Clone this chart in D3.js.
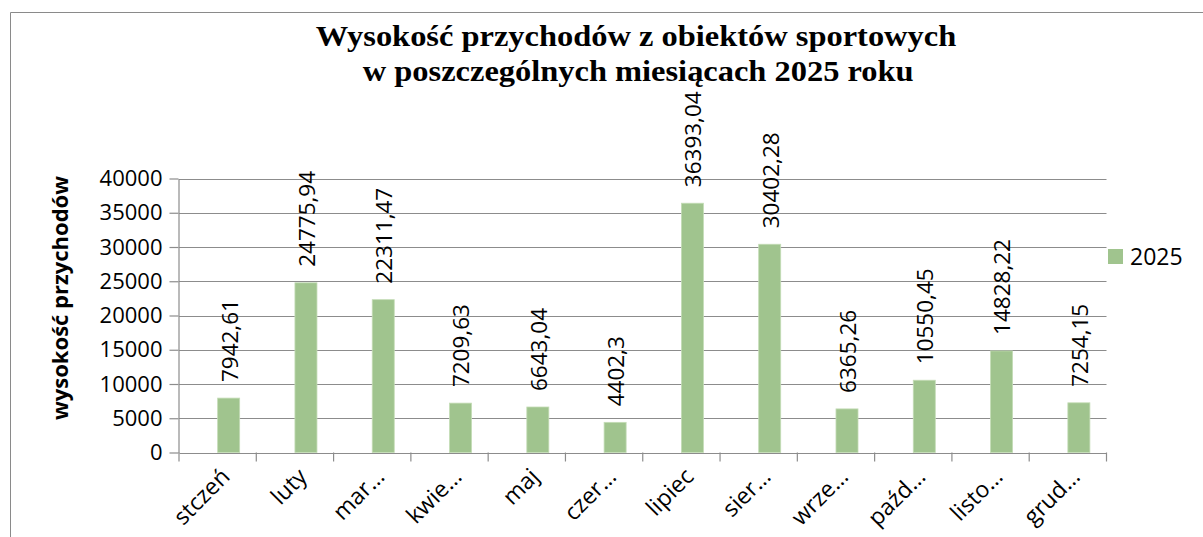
<!DOCTYPE html>
<html>
<head>
<meta charset="utf-8">
<script src="https://cdn.jsdelivr.net/npm/d3@7"></script>
<style>
  body { margin: 0; background: #fff; }
  svg { display: block; }
</style>
</head>
<body>
<div id="chart"></div>
<script>
// chart data
var months = ['stczeń', 'luty', 'marzec', 'kwiecień', 'maj', 'czerwiec', 'lipiec', 'sierpień', 'wrzesień', 'październik', 'listopad', 'grudzień'];
var monthLabels = ['stczeń', 'luty', 'mar…', 'kwie…', 'maj', 'czer…', 'lipiec', 'sier…', 'wrze…', 'paźd…', 'listo…', 'grud…'];
var values2025 = [7942.61, 24775.94, 22311.47, 7209.63, 6643.04, 4402.3, 36393.04, 30402.28, 6365.26, 10550.45, 14828.22, 7254.15];
var valueLabels = ['7942,61', '24775,94', '22311,47', '7209,63', '6643,04', '4402,3', '36393,04', '30402,28', '6365,26', '10550,45', '14828,22', '7254,15'];
var yTicks = [0, 5000, 10000, 15000, 20000, 25000, 30000, 35000, 40000];
var seriesName = '2025';

var width = 1203, height = 537;
var plot = { left: 179, right: 1106.5, top: 178.5, bottom: 452.5 };
var barColor = '#a0c48e';
var gridColor = '#8c8c8c';
var font = '"Open Sans", "DejaVu Sans", sans-serif';

var svg = d3.select('#chart').append('svg')
    .attr('width', width)
    .attr('height', height);

// chart frame (only top and left edges are visible)
svg.append('line')
    .attr('x1', 10.5).attr('x2', width).attr('y1', 12.5).attr('y2', 12.5)
    .attr('stroke', '#8a8a8a').attr('stroke-width', 1);
svg.append('line')
    .attr('x1', 10.5).attr('x2', 10.5).attr('y1', 12.5).attr('y2', height)
    .attr('stroke', '#8a8a8a').attr('stroke-width', 1);

var x = d3.scaleBand()
    .domain(months)
    .range([plot.left, plot.right])
    .padding(0);

var y = d3.scaleLinear()
    .domain([0, 40000])
    .range([plot.bottom, plot.top]);

// gridlines
svg.append('g')
    .selectAll('line')
    .data(yTicks.slice(1))
    .enter().append('line')
    .attr('x1', plot.left)
    .attr('x2', plot.right)
    .attr('y1', d => Math.round(y(d)) + 0.5)
    .attr('y2', d => Math.round(y(d)) + 0.5)
    .attr('stroke', gridColor)
    .attr('stroke-width', 1.2);

// y axis
var yAxis = svg.append('g')
    .attr('transform', 'translate(' + (plot.left - 0.5) + ',0)')
    .call(d3.axisLeft(y).tickValues(yTicks).tickFormat(d3.format('d')).tickSize(9).tickPadding(7).tickSizeOuter(0));
yAxis.select('.domain').attr('stroke', gridColor).attr('stroke-width', 1.2);
yAxis.selectAll('.tick line').attr('stroke', gridColor).attr('stroke-width', 1.2);
yAxis.selectAll('.tick text')
    .attr('font-family', font)
    .attr('font-size', 22)
    .attr('fill', '#000');

// x axis
var xAxis = svg.append('g')
    .attr('transform', 'translate(0,' + (plot.bottom + 0.5) + ')')
    .call(d3.axisBottom(x).tickSize(0).tickFormat(''));
xAxis.select('.domain').attr('stroke', gridColor).attr('stroke-width', 1.2);

// category boundary ticks
svg.append('g')
    .selectAll('line')
    .data(months.concat(['_end']))
    .enter().append('line')
    .attr('x1', (d, i) => i < months.length ? x(d) : plot.right)
    .attr('x2', (d, i) => i < months.length ? x(d) : plot.right)
    .attr('y1', plot.bottom)
    .attr('y2', plot.bottom + 9)
    .attr('stroke', gridColor)
    .attr('stroke-width', 1.2);

// x labels rotated
svg.append('g')
    .selectAll('text')
    .data(months)
    .enter().append('text')
    .attr('transform', d => 'translate(' + (x(d) + x.bandwidth() / 2 + 2) + ',' + (plot.bottom + 14) + ') rotate(-45)')
    .attr('text-anchor', 'end')
    .attr('dy', '0.71em')
    .attr('font-family', font)
    .attr('font-size', 23)
    .attr('fill', '#000')
    .text((d, i) => monthLabels[i]);

// bars
var barW = x.bandwidth() * 0.285;
svg.append('g')
    .selectAll('rect')
    .data(values2025)
    .enter().append('rect')
    .attr('x', (d, i) => x(months[i]) + x.bandwidth() / 2)
    .attr('y', d => y(d))
    .attr('width', barW)
    .attr('height', d => y(0) - y(d))
    .attr('fill', barColor)
    .attr('stroke', '#c4dcb6')
    .attr('stroke-width', 0.8);

// value labels
svg.append('g')
    .selectAll('text')
    .data(values2025)
    .enter().append('text')
    .attr('transform', (d, i) => 'translate(' + (x(months[i]) + x.bandwidth() / 2 + barW / 2 + 1) + ',' + (y(d) - 16) + ') rotate(-90)')
    .attr('text-anchor', 'start')
    .attr('dy', '0.35em')
    .attr('font-family', font)
    .attr('font-size', 22.5)
    .attr('fill', '#000')
    .text((d, i) => valueLabels[i]);

// title (slightly widened like the original)
var title = svg.append('text')
    .attr('transform', 'translate(636,0) scale(1.1,1)')
    .attr('text-anchor', 'middle')
    .attr('font-family', '"Liberation Serif", "Times New Roman", serif')
    .attr('font-weight', 'bold')
    .attr('font-size', 29.5)
    .attr('fill', '#000');
title.append('tspan').attr('x', 0).attr('y', 46).text('Wysokość przychodów z obiektów sportowych');
title.append('tspan').attr('x', 2).attr('y', 81).text('w poszczególnych miesiącach 2025 roku');

// y axis title
svg.append('text')
    .attr('transform', 'translate(60,' + 298 + ') rotate(-90)')
    .attr('text-anchor', 'middle')
    .attr('dy', '0.35em')
    .attr('font-family', font)
    .attr('font-weight', 'bold')
    .attr('font-size', 22)
    .attr('fill', '#000')
    .text('wysokość przychodów');

// legend
var legend = svg.append('g').attr('transform', 'translate(1108,249)');
legend.append('rect')
    .attr('width', 15)
    .attr('height', 15)
    .attr('fill', barColor);
legend.append('text')
    .attr('x', 22)
    .attr('y', 8)
    .attr('dy', '0.35em')
    .attr('font-family', font)
    .attr('font-size', 23)
    .attr('fill', '#000')
    .text(seriesName);
</script>
</body>
</html>
